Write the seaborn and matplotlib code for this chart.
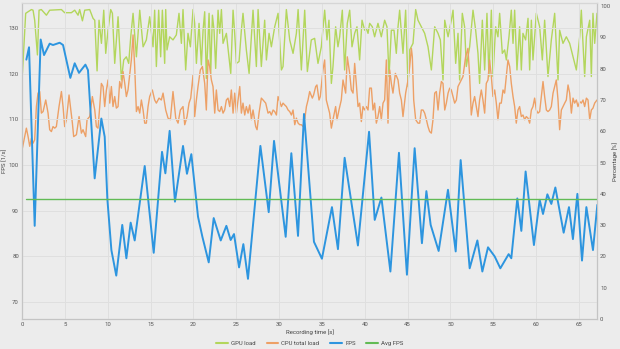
import matplotlib
matplotlib.use("Agg")
import matplotlib.pyplot as plt
import seaborn as sns

# ---------------- data ----------------
fps_time = [0.51, 0.82, 1.48, 2.18, 2.57, 3.23, 3.62, 4.4, 4.79, 5.64, 6.15, 6.65, 7.4, 7.7,
            8.48, 9.26, 9.65, 9.96, 10.43, 11.0, 11.7, 12.18, 12.68, 13.15, 14.32, 15.37,
            16.34, 16.73, 17.23, 17.85, 18.79, 19.25, 19.76, 20.54, 21.05, 21.79, 22.37,
            23.19, 23.85, 24.35, 24.74, 25.33, 25.83, 26.37, 27.82, 28.79, 29.41, 30.77,
            31.43, 32.21, 32.91, 34.07, 35.0, 36.17, 36.87, 37.65, 39.2, 40.5, 41.16, 41.94,
            42.99, 43.99, 44.92, 45.82, 46.67, 47.19, 47.69, 48.62, 49.71, 50.61, 51.19,
            52.24, 53.14, 53.72, 54.38, 55.16, 55.82, 56.79, 57.1, 57.8, 58.27, 58.77, 59.74,
            60.41, 60.8, 61.31, 61.77, 62.24, 63.21, 63.83, 64.29, 64.81, 65.35, 65.86,
            66.63, 67.14]
fps_values = [123.1, 125.8, 86.7, 127.5, 124.1, 126.6, 126.3, 126.8, 126.3, 119.1, 122.3,
              120.2, 122.0, 120.8, 97.1, 110.2, 106.2, 92.6, 81.4, 75.8, 86.9, 79.6, 87.4,
              83.5, 99.8, 80.8, 102.9, 98.2, 107.5, 92.0, 104.2, 98.1, 102.4, 88.7, 84.3,
              78.7, 88.4, 83.5, 86.7, 83.6, 84.9, 77.6, 82.7, 75.1, 104.2, 89.7, 105.3,
              84.3, 102.6, 84.5, 111.2, 83.2, 79.5, 90.8, 81.6, 101.6, 82.4, 107.3, 88.0,
              92.9, 76.7, 102.7, 76.0, 103.7, 82.9, 94.3, 86.9, 81.2, 94.6, 81.1, 101.1,
              77.4, 83.5, 76.7, 82.0, 80.0, 77.4, 80.5, 79.6, 92.7, 85.6, 98.6, 82.5, 92.4,
              89.3, 93.6, 91.5, 95.1, 85.2, 90.8, 83.8, 93.7, 79.1, 90.8, 81.4, 91.3]
avg_fps = 92.6

gpu_time = [0.05, 0.43, 0.7, 1.1, 1.29, 1.48, 1.8, 1.99, 2.26, 2.85, 3.23, 4.6, 4.98, 5.76,
            6.15, 6.54, 6.73, 7.05, 7.32, 7.9, 8.29, 8.49, 8.76, 8.99, 9.27, 9.54, 9.77,
            10.04, 10.35, 10.55, 10.82, 11.21, 11.6, 11.87, 12.18, 12.45, 12.69, 12.96,
            13.35, 13.74, 14.13, 14.51, 14.9, 15.29,
            15.48, 15.68, 15.95, 16.18, 16.38, 16.65, 16.77, 16.92, 17.23, 17.62, 18.01,
            18.32, 18.6, 18.79, 19.1, 19.37, 19.65, 19.96, 20.15, 20.35, 20.66, 20.93,
            21.13, 21.32, 21.51, 21.83, 22.02, 22.22, 22.41, 22.6, 22.88, 23.07, 23.27,
            23.46, 23.85, 24.36, 24.63, 24.82, 25.02, 25.33, 25.6, 25.79, 26.18, 26.5,
            26.77, 26.96, 27.35, 27.55, 27.93, 28.32, 28.52, 28.83, 29.1, 29.49, 29.88,
            30.27, 30.46, 30.85, 31.24, 31.63, 32.02, 32.22, 32.6, 32.99, 33.3,
            33.76, 34.15, 34.54, 34.93, 35.32, 35.59, 35.82, 36.1, 36.29, 36.6, 36.87,
            37.07, 37.38, 37.65, 37.96, 38.24, 38.51, 38.82, 39.09, 39.4, 39.68, 39.99,
            40.18, 40.38, 40.57, 40.88, 41.15, 41.54, 41.93, 42.32, 42.59, 42.83, 43.1,
            43.41, 43.68, 43.88, 44.07, 44.46, 44.77, 45.05, 45.24, 45.63, 45.94, 46.21,
            46.6, 46.99, 47.38, 47.77, 48.16, 48.55, 48.82, 49.13, 49.33, 49.72, 50.1,
            50.3, 50.61, 50.88,
            51.07, 51.38, 51.65, 51.85, 52.24, 52.63, 52.94, 53.21, 53.4, 53.72, 53.99,
            54.26, 54.49, 54.77, 54.96, 55.27, 55.54, 55.74, 56.05, 56.32, 56.52, 56.83,
            57.1, 57.3, 57.49, 57.76, 58.07, 58.27, 58.46, 58.77, 59.05, 59.24, 59.44,
            59.63, 60.02, 60.41, 60.72, 60.99, 61.38, 61.77, 62.16, 62.55, 62.74, 63.13,
            63.52, 63.91, 64.3, 64.69, 65.08, 65.27, 65.66, 65.86, 66.25, 66.44, 66.63,
            66.83, 67.1]
gpu_load = [78.5, 97.7, 98.2, 98.9, 98.7, 95.5, 84.4, 98.7, 98.9, 97.1, 98.7, 98.9, 97.9,
            97.9, 98.7, 97.1, 98.9, 95.3, 98.7, 98.9, 96.1, 95.5, 79.3, 95.5, 88.1, 98.7,
            84.9, 92.3, 98.9, 97.7, 81.7, 96.6, 76.4, 82.8, 83.8, 81.7, 90.2, 97.7, 83.8,
            98.7, 87.0, 89.2, 96.6, 87.0,
            98.7, 80.7, 98.7, 83.8, 98.7, 81.7, 98.9, 86.0, 90.2, 89.2, 90.8, 97.7, 88.1,
            98.9, 79.6, 91.3, 87.0, 98.9, 94.5, 81.7, 94.5, 81.2, 92.3, 98.2, 76.9, 97.7,
            78.5, 97.1, 92.3, 80.1, 98.7, 91.3, 98.9, 88.1, 91.3, 78.5, 98.7, 91.3, 81.7,
            82.3, 92.3, 97.7, 86.0, 78.5, 90.2, 98.7, 80.7, 98.9, 80.7, 95.5, 82.8, 91.3,
            87.0, 93.4, 97.7, 79.6, 80.7, 98.9, 89.2, 84.9, 91.3, 98.9, 79.6, 98.7, 79.1,
            89.2, 89.7, 81.7, 87.0, 98.7, 89.2, 95.5, 75.3, 80.7, 93.4, 87.0, 90.2, 98.7,
            79.6, 94.5, 98.7, 87.0, 91.3, 93.4, 82.8, 95.5, 92.3, 92.9, 91.3, 94.5, 93.4,
            90.2, 94.5, 90.2, 95.5, 93.4, 77.5, 92.3, 92.3, 84.9, 93.4, 98.7, 84.9, 98.7,
            74.3, 86.0, 88.1, 98.9, 95.5, 93.4, 91.3, 87.0, 79.6, 93.4, 91.3, 89.2, 76.4,
            95.5, 90.2, 95.5, 98.7, 81.7, 91.3,
            76.4, 97.7, 93.4, 80.7, 87.0, 98.7, 92.3, 84.9, 75.3, 95.5, 79.6, 97.7, 77.5,
            98.7, 77.5, 93.4, 90.2, 97.7, 84.9, 86.0, 82.8, 90.2, 98.7, 88.1, 98.7, 79.6,
            93.4, 79.6, 91.3, 89.2, 96.1, 79.6, 95.5, 82.8, 97.7, 93.4, 82.8, 95.5, 77.5,
            89.2, 97.7, 76.4, 92.3, 88.1, 90.2, 88.1, 83.8, 79.6, 90.2, 98.7, 77.5, 90.2,
            95.5, 77.5, 97.7, 88.1, 97.7]

cpu_time = [0.01, 0.32, 0.51, 0.71, 0.90, 1.10, 1.29, 1.48, 1.68, 1.87, 2.07, 2.26, 2.46,
            2.77, 3.04, 3.23, 3.43, 3.62, 3.82, 4.01, 4.32, 4.60, 4.79, 4.98, 5.18, 5.49,
            5.65, 5.88, 6.03, 6.35, 6.66, 6.93, 7.12, 7.43, 7.59, 7.90, 8.21, 8.49, 8.68,
            8.87, 9.07, 9.26, 9.46, 9.65, 9.85, 10.04, 10.24, 10.43, 10.62, 10.82, 11.01,
            11.21, 11.40, 11.60, 11.79, 11.99, 12.18, 12.37, 12.57, 12.76, 12.96, 13.15,
            13.35, 13.54, 13.74, 13.93, 14.13, 14.32, 14.51, 14.71, 14.90,
            15.21, 15.48, 15.68, 15.99, 16.26, 16.46, 16.77, 17.04, 17.31, 17.62, 17.94,
            18.21, 18.48, 18.79, 18.99, 19.26, 19.49, 19.69, 19.96, 20.15, 20.35, 20.54,
            20.81, 21.05, 21.32, 21.51, 21.71, 21.90, 22.10, 22.29, 22.49, 22.68, 22.88,
            23.07, 23.27, 23.46, 23.65, 23.85, 24.04, 24.24, 24.43, 24.63, 24.82, 25.02,
            25.21, 25.41, 25.60, 25.79, 25.99, 26.18, 26.38, 26.57, 26.77, 26.96, 27.27,
            27.43, 27.66, 27.93, 28.13, 28.44, 28.71, 28.91, 29.10, 29.30, 29.49, 29.69,
            29.88, 30.08, 30.27, 30.46, 30.66, 30.85, 31.05, 31.24, 31.44, 31.63, 31.83,
            32.02, 32.22, 32.41, 32.60, 32.80, 32.99, 33.19, 33.38,
            33.57, 33.88, 34.03, 34.27, 34.42, 34.66, 34.81, 35.12, 35.32, 35.51, 35.71,
            35.90, 36.10, 36.29, 36.60, 36.76, 36.99, 37.26, 37.46, 37.77, 37.96, 38.24,
            38.43, 38.63, 38.82, 39.01, 39.21, 39.40, 39.60, 39.79, 39.99, 40.18, 40.38,
            40.57, 40.77, 40.96, 41.15, 41.35, 41.54, 41.74, 41.93, 42.13, 42.32, 42.52,
            42.71, 42.91, 43.10, 43.29, 43.57, 43.88, 44.07, 44.27, 44.46, 44.77, 45.05,
            45.24, 45.44, 45.55, 45.71, 45.94, 46.21, 46.41, 46.60, 46.80, 46.99, 47.19,
            47.38, 47.57, 47.77, 47.96, 48.16, 48.35, 48.55, 48.74, 48.94, 49.13, 49.33,
            49.52, 49.72, 49.91, 50.10, 50.30, 50.49, 50.69, 50.88,
            51.46, 51.77, 52.04, 52.24, 52.43, 52.63, 52.82, 53.02, 53.21, 53.40, 53.60,
            53.79, 53.99, 54.18, 54.38, 54.57, 54.77, 54.96, 55.16, 55.35, 55.54, 55.74,
            55.93, 56.13, 56.32, 56.52, 56.71, 56.91, 57.10, 57.30, 57.49, 57.68, 57.88,
            58.07, 58.27, 58.46, 58.66, 58.85, 59.05, 59.24, 59.44, 59.63, 59.82, 60.02,
            60.21, 60.41, 60.60, 60.80, 60.99, 61.19, 61.38, 61.58, 61.77, 61.97, 62.16,
            62.35, 62.55, 62.74, 62.94, 63.13, 63.33, 63.52, 63.72, 63.91, 64.11, 64.30,
            64.49, 64.69, 64.88, 65.08, 65.27, 65.47, 65.66, 65.86, 66.05, 66.25, 66.44,
            66.63, 66.83, 67.10]
cpu_load = [54.1, 58.3, 61.0, 58.3, 55.2, 57.8, 56.2, 57.3, 67.9, 72.2, 72.7, 65.8, 66.3,
            70.0, 65.8, 60.5, 59.9, 61.5, 61.0, 61.5, 67.9, 72.7, 67.9, 61.5, 63.7, 71.6,
            67.9, 62.6, 58.3, 58.9, 64.7, 59.4, 60.5, 58.3, 63.7, 64.7, 71.1, 66.8, 61.5,
            61.0, 67.9, 75.3, 74.3, 67.9, 73.2, 76.4, 69.0, 74.3, 67.9, 71.1, 67.4, 67.9,
            75.9, 73.8, 79.1, 75.3, 71.1, 73.2, 78.0, 82.8, 90.8, 80.7, 66.3, 67.9, 65.8,
            70.0, 66.8, 62.6, 62.6, 67.9, 71.1,
            73.2, 70.0, 69.0, 70.6, 70.0, 72.2, 66.8, 64.2, 63.7, 72.7, 64.2, 62.6, 66.8,
            67.9, 62.1, 64.7, 69.0, 70.6, 78.0, 64.7, 70.0, 74.3, 79.6, 80.7, 75.3, 66.8,
            82.8, 80.7, 76.4, 74.3, 65.8, 73.2, 66.8, 66.3, 67.9, 65.8, 66.8, 70.0, 70.6,
            67.9, 73.2, 65.8, 72.2, 65.8, 70.0, 74.3, 65.8, 69.0, 65.2, 67.9, 65.8, 68.4,
            63.7, 66.8, 61.5, 60.5, 65.8, 70.6, 70.0, 69.0, 65.8, 66.3, 65.2, 66.8, 66.3,
            65.2, 71.1, 69.5, 67.9, 69.0, 68.4, 67.9, 66.8, 66.3, 65.2, 66.8, 62.1, 64.2,
            62.6, 62.1, 62.1, 61.5, 63.7, 67.9, 70.0,
            72.7, 70.6, 71.6, 74.3, 74.8, 70.0, 71.1, 79.6, 82.8, 70.0, 67.9, 65.8, 61.0,
            63.7, 67.9, 63.7, 66.8, 70.0, 76.4, 72.2, 83.8, 78.5, 73.2, 72.2, 81.7, 75.3,
            67.9, 69.0, 63.1, 67.9, 66.8, 67.9, 66.8, 73.8, 73.8, 66.8, 69.0, 62.6, 64.7,
            67.9, 63.7, 69.0, 70.0, 82.8, 62.6, 79.6, 75.3, 72.2, 78.5, 76.4, 72.2, 70.0,
            64.7, 72.2, 76.4, 80.7, 86.5, 83.8, 70.0, 63.7, 62.6, 62.6, 66.8, 66.8, 65.8,
            63.7, 61.5, 59.9, 59.4, 63.7, 72.2, 72.7, 66.8, 72.2, 75.9, 75.3, 66.8, 69.0,
            72.2, 73.8, 73.2, 71.1, 69.0, 70.0, 74.3,
            77.5, 83.8, 86.5, 77.5, 65.2, 69.0, 71.1, 67.9, 64.7, 70.0, 73.2, 70.0, 65.8,
            75.3, 76.4, 82.8, 77.5, 71.1, 73.2, 69.0, 63.7, 69.0, 69.0, 73.2, 72.2, 77.5,
            82.8, 80.7, 75.3, 71.1, 67.9, 62.6, 66.8, 67.9, 64.7, 65.2, 63.7, 64.7, 64.2,
            62.6, 66.8, 67.9, 70.6, 66.8, 65.8, 66.3, 71.1, 75.9, 71.1, 66.8, 66.3, 66.8,
            67.9, 72.2, 74.3, 76.4, 70.0, 60.5, 66.8, 67.9, 69.0, 70.0, 74.8, 72.2, 65.8,
            70.6, 69.0, 70.0, 67.9, 69.5, 69.0, 70.0, 67.9, 70.6, 70.0, 63.7, 66.8, 67.4,
            69.0, 70.0]

x_ticks = [0, 5, 10, 15, 20, 25, 30, 35, 40, 45, 50, 55, 60, 65]
fps_ticks = [70, 80, 90, 100, 110, 120, 130]
pct_ticks = [0, 10, 20, 30, 40, 50, 60, 70, 80, 90, 100]
series_names = ["GPU load", "CPU total load", "FPS", "Avg FPS"]

# ---------------- style ----------------
BG = "#ececec"
GRID = "#dfdfdf"
SPINE = "#c4c4c4"
TXT = "#555555"
C_GPU = "#b3d65c"
C_CPU = "#eda066"
C_FPS = "#2d95df"
C_AVG = "#62bb55"
FS = 4.3

sns.set_theme(style="whitegrid")
plt.rcParams["font.family"] = ["Roboto", "DejaVu Sans"]

W, H = 620, 349
fig = plt.figure(figsize=(W / 100, H / 100), dpi=100, facecolor=BG)
ax = fig.add_axes([22 / W, 1 - 319 / H, 575 / W, 316 / H])
ax2 = ax.twinx()
ax.set_zorder(2)
ax2.set_zorder(1)
ax.patch.set_visible(False)
ax2.set_facecolor(BG)

sns.lineplot(x=gpu_time, y=gpu_load, ax=ax2, color=C_GPU, linewidth=1.0,
             label=series_names[0], legend=False)
sns.lineplot(x=cpu_time, y=cpu_load, ax=ax2, color=C_CPU, linewidth=1.0,
             label=series_names[1], legend=False)
sns.lineplot(x=fps_time, y=fps_values, ax=ax, color=C_FPS, linewidth=1.4,
             label=series_names[2], legend=False)
sns.lineplot(x=[fps_time[0], fps_time[-1]], y=[avg_fps, avg_fps], ax=ax, color=C_AVG,
             linewidth=1.0, label=series_names[3], legend=False)

ax.set_xlim(0, 67.1)
ax.set_ylim(66.3, 135.5)
ax2.set_ylim(0, 101)
ax.set_xticks(x_ticks)
ax.set_yticks(fps_ticks)
ax2.set_yticks(pct_ticks)

ax.grid(True, color=GRID, linewidth=0.7)
ax2.grid(False)
for a in (ax, ax2):
    a.tick_params(length=0, labelsize=FS, labelcolor=TXT, pad=2.2)
    for s in a.spines.values():
        s.set_color(SPINE)
        s.set_linewidth(0.8)
    a.spines["top"].set_color("#d6d6d6")

ax.set_xlabel("Recording time [s]", fontsize=FS, color="#444444")
ax.set_ylabel("FPS [1/s]", fontsize=FS, color="#444444")
ax2.set_ylabel("Percentage [%]", fontsize=FS, color="#444444")
ax.xaxis.set_label_coords(0.5, (319 - 329.5) / 316)
ax.yaxis.set_label_coords((7.5 - 22) / 575, 0.5)
ax2.yaxis.set_label_coords((612.5 - 22) / 575, 0.5)

h2, l2 = ax2.get_legend_handles_labels()
h1, l1 = ax.get_legend_handles_labels()
leg = fig.legend(h2 + h1, l2 + l1, loc="center", bbox_to_anchor=(0.5, 1 - 343 / H),
                 ncol=4, frameon=False, fontsize=FS, handlelength=1.9,
                 columnspacing=1.8, handletextpad=0.6, borderpad=0.1)
for line in leg.get_lines():
    line.set_linewidth(1.5)
for t in leg.get_texts():
    t.set_color("#444444")

fig.savefig("out.png", dpi=100, facecolor=BG)
